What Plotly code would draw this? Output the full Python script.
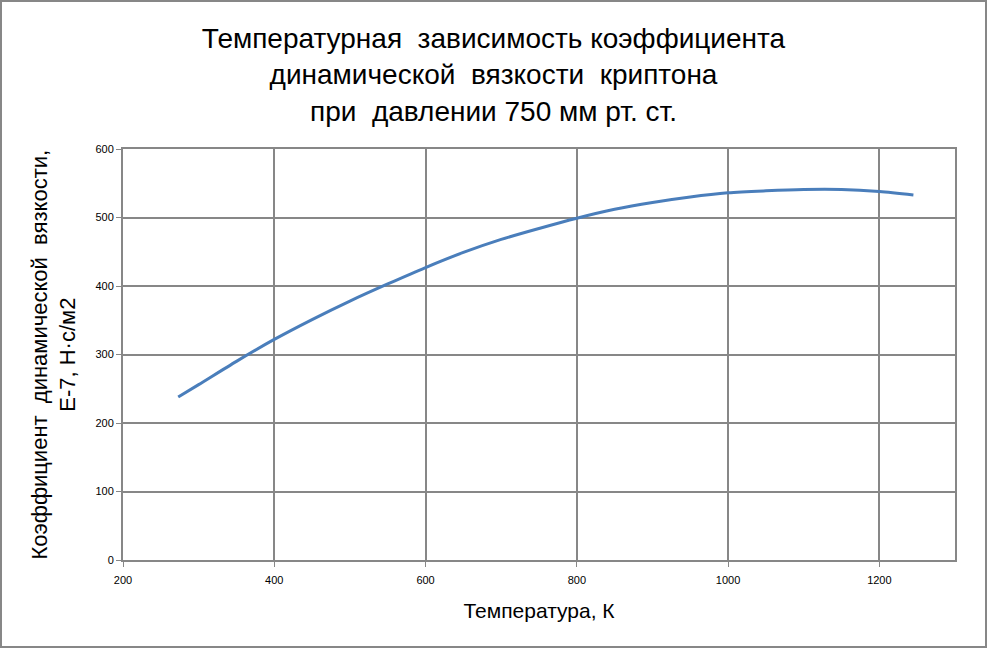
import plotly.graph_objects as go

temperature_K = [273, 300, 350, 400, 450, 500, 550, 600, 650, 700, 750, 800,
                 850, 900, 950, 1000, 1050, 1100, 1150, 1200, 1245]
viscosity_E7 = [238, 256, 290, 322, 351, 378, 403, 427, 449, 468, 484, 499,
                512, 522, 530, 536, 539, 541, 541, 538, 533]

x_ticks = [200, 400, 600, 800, 1000, 1200]
y_ticks = [0, 100, 200, 300, 400, 500, 600]

title_text = ("Температурная  зависимость коэффициента<br>"
              "динамической  вязкости  криптона<br>"
              "при  давлении 750 мм рт. ст.")
x_title = "Температура, К"
y_title = "Коэффициент  динамической  вязкости,<br>Е-7, Н·с/м2"

W, H = 987, 648
L, R, T, B = 123, 32, 149, 88
pw, ph = W - L - R, H - T - B

grid = "#878787"
sans = "Liberation Sans, Arial, sans-serif"

fig = go.Figure()
fig.add_trace(go.Scatter(
    x=temperature_K, y=viscosity_E7, mode="lines",
    line=dict(color="#4a7ebb", width=3, shape="spline", smoothing=0.8),
    showlegend=False, hoverinfo="x+y"))

fig.update_layout(
    width=W, height=H,
    margin=dict(l=L, r=R, t=T, b=B),
    paper_bgcolor="white", plot_bgcolor="white",
    title=dict(text=title_text, x=0.5, xanchor="center",
               y=1 - 48 / H, yanchor="middle", yref="container",
               font=dict(family=sans, size=28, color="black")),
    xaxis=dict(range=[200, 1300], tickvals=x_ticks,
               showgrid=True, gridcolor=grid, gridwidth=2,
               showline=True, linecolor=grid, linewidth=2, mirror=True,
               ticks="outside", ticklen=5, tickcolor=grid, tickwidth=1,
               ticklabelstandoff=4,
               tickfont=dict(family=sans, size=11, color="black"),
               zeroline=False,
               title=dict(text=x_title, standoff=18,
                          font=dict(family=sans, size=21, color="black"))),
    yaxis=dict(range=[0, 600], tickvals=y_ticks,
               showgrid=True, gridcolor=grid, gridwidth=2,
               showline=True, linecolor=grid, linewidth=2, mirror=True,
               ticks="outside", ticklen=5, tickcolor=grid, tickwidth=1,
               tickfont=dict(family=sans, size=11, color="black"),
               zeroline=False),
    annotations=[dict(text=y_title, textangle=-90, xref="paper", yref="paper",
                      x=-(L - 53) / pw, y=0.5, xanchor="center", yanchor="middle",
                      showarrow=False, align="center",
                      font=dict(family=sans, size=22, color="black"))],
    shapes=[dict(type="rect", xref="paper", yref="paper",
                 x0=-(L - 1) / pw, x1=1 + (R - 1) / pw,
                 y0=-(B - 1) / ph, y1=1 + (T - 1) / ph,
                 line=dict(color=grid, width=2), layer="below")],
)

fig.write_html("out.html")
